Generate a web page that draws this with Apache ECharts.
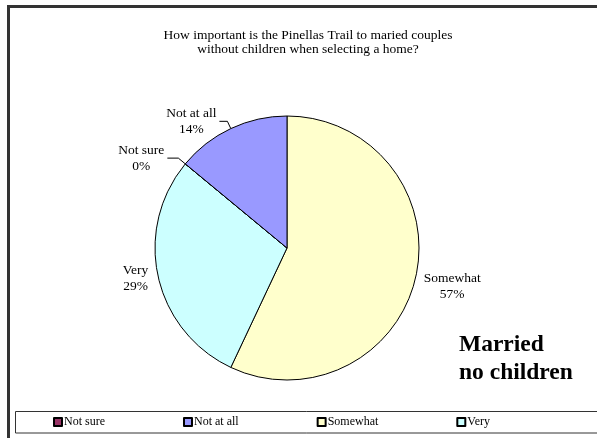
<!DOCTYPE html>
<html>
<head>
<meta charset="utf-8">
<script src="https://cdn.jsdelivr.net/npm/echarts@6/dist/echarts.min.js"></script>
<style>
  html, body { margin: 0; padding: 0; background: #fff; }
  #chart { width: 597px; height: 438px; }
</style>
</head>
<body>
<div id="chart"></div>
<script>
// Responses, in the order the slices run clockwise from 12 o'clock
const categories = ['Somewhat', 'Very', 'Not sure', 'Not at all'];
const percents = [57, 29, 0, 14];
const sliceColors = ['#FFFFCC', '#CCFFFF', '#993366', '#9999FF'];
// Legend lists the answers in survey order
const legendOrder = ['Not sure', 'Not at all', 'Somewhat', 'Very'];

const titleText = 'How important is the Pinellas Trail to maried couples\nwithout children when selecting a home?';
const groupText = 'Married\nno children';

// Per-slice leader line settings (radial length, horizontal length, visible)
const leader = {
  'Somewhat':   { length: 5, length2: 0, show: false },
  'Very':       { length: 7, length2: 0, show: false },
  'Not sure':   { length: 9, length2: 11, show: true },
  'Not at all': { length: 8, length2: 8, show: true }
};
// Extra label offset for the right-hand slice label
const labelPad = { 'Somewhat': [18, 0, 0, 0] };

const serif = '"Liberation Serif", "DejaVu Serif", serif';
const labelSize = 13.5;

const pieData = categories.map((name, i) => ({
  name: name,
  value: percents[i],
  itemStyle: { color: sliceColors[i] },
  labelLine: leader[name],
  label: labelPad[name] ? { padding: labelPad[name] } : {}
}));

const chart = echarts.init(document.getElementById('chart'), null, { renderer: 'canvas' });

chart.setOption({
  backgroundColor: '#ffffff',
  animation: false,
  title: [
    {
      text: titleText,
      left: 308,
      top: 29,
      textAlign: 'center',
      padding: 0,
      textStyle: { fontFamily: serif, fontSize: 13.5, fontWeight: 'normal', color: '#000', lineHeight: 13.5 }
    },
    {
      text: groupText,
      left: 459,
      top: 331,
      padding: 0,
      textStyle: { fontFamily: serif, fontSize: 23.5, fontWeight: 'bold', color: '#000', lineHeight: 28 }
    }
  ],
  graphic: [
    {
      // chart frame
      type: 'rect',
      silent: true,
      shape: { x: 8.5, y: 6.5, width: 700, height: 500 },
      style: { fill: 'none', stroke: '#333333', lineWidth: 3 }
    },
    {
      // legend frame
      type: 'rect',
      silent: true,
      z: -1,
      shape: { x: 15.5, y: 411.5, width: 700, height: 21.5 },
      style: { fill: '#ffffff', stroke: '#333333', lineWidth: 1 }
    }
  ],
  legend: {
    data: legendOrder,
    left: 53,
    top: 416,
    width: 560,
    orient: 'horizontal',
    icon: 'rect',
    itemWidth: 8,
    itemHeight: 8,
    itemGap: 78,
    padding: 0,
    textStyle: { fontFamily: serif, fontSize: 12, color: '#000', padding: [0, 0, 0, -3] },
    selectedMode: false
  },
  series: [
    {
      type: 'pie',
      center: [287, 248],
      radius: 132,
      startAngle: 90,
      clockwise: true,
      avoidLabelOverlap: false,
      data: pieData,
      itemStyle: { borderColor: '#000', borderWidth: 1 },
      emphasis: { disabled: true },
      label: {
        show: true,
        position: 'outside',
        distanceToLabelLine: 3,
        fontFamily: serif,
        fontSize: labelSize,
        color: '#000',
        lineHeight: 16,
        formatter: p => '{t|' + p.name + '}\n{t|' + p.value + '%}',
        rich: { t: { align: 'center', fontFamily: serif, fontSize: labelSize, color: '#000', lineHeight: 16 } }
      },
      labelLine: {
        show: true,
        smooth: false,
        lineStyle: { color: '#000', width: 1 }
      }
    }
  ]
});
</script>
</body>
</html>
